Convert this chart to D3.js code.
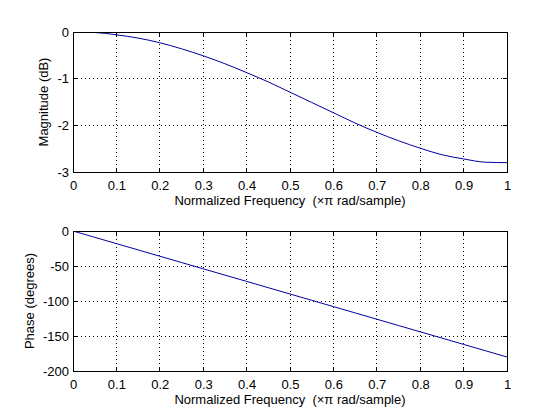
<!DOCTYPE html>
<html>
<head>
<meta charset="utf-8">
<script src="https://cdn.jsdelivr.net/npm/d3@7"></script>
<style>
  body { margin: 0; background: #fff; }
  text { font-family: "Liberation Sans", Arial, sans-serif; font-size: 13px; fill: #000; white-space: pre; }
</style>
</head>
<body>
<script>
// frequency samples (x pi rad/sample)
var freq = [0, 0.05, 0.1, 0.15, 0.2, 0.25, 0.3, 0.35, 0.4, 0.45, 0.5,
            0.55, 0.6, 0.65, 0.7, 0.75, 0.8, 0.85, 0.9, 0.95, 1];
// magnitude in dB
var magnitude = [0, -0.01, -0.06, -0.13, -0.23, -0.36, -0.51, -0.68, -0.87, -1.07, -1.29,
                 -1.51, -1.73, -1.95, -2.15, -2.33, -2.49, -2.63, -2.72, -2.79, -2.8];
// phase in degrees
var phase = [0, -9, -18, -27, -36, -45, -54, -63, -72, -81, -90,
             -99, -108, -117, -126, -135, -144, -153, -162, -171, -180];

var xTicks = [0, 0.1, 0.2, 0.3, 0.4, 0.5, 0.6, 0.7, 0.8, 0.9, 1];
var magTicks = [0, -1, -2, -3];
var phaseTicks = [0, -50, -100, -150, -200];

var xLabel = "Normalized Frequency  (\u00d7\u03c0 rad/sample)";

var W = 560, H = 420;
var svg = d3.select("body").append("svg")
    .attr("width", W)
    .attr("height", H);

//plain hyphen minus like the original
function fmt(d) { return String(d); }

function panel(top, yDomain, yTicks, values, yLabel, ylabX) {
  var left = 73, right = 507, bottom = top + 140;
  var x = d3.scaleLinear().domain([0, 1]).range([left, right]);
  var y = d3.scaleLinear().domain(yDomain).range([bottom, top]);
  var g = svg.append("g");

  var clipId = "clip" + top;
  g.append("clipPath").attr("id", clipId)
    .append("rect")
    .attr("x", left).attr("y", top)
    .attr("width", right - left).attr("height", bottom - top);

  //grid
  g.selectAll(".vgrid").data(xTicks.slice(1, -1)).enter().append("line")
    .attr("x1", function(d) { return x(d); })
    .attr("x2", function(d) { return x(d); })
    .attr("y1", top).attr("y2", bottom)
    .attr("stroke", "#000").attr("stroke-width", 1)
    .attr("stroke-dasharray", "1,3")
    .attr("shape-rendering", "crispEdges");
  g.selectAll(".hgrid").data(yTicks.slice(1, -1)).enter().append("line")
    .attr("y1", function(d) { return y(d); })
    .attr("y2", function(d) { return y(d); })
    .attr("x1", left).attr("x2", right)
    .attr("stroke", "#000").attr("stroke-width", 1)
    .attr("stroke-dasharray", "1,3")
    .attr("shape-rendering", "crispEdges");

  //data line
  var line = d3.line()
    .x(function(d, i) { return x(freq[i]); })
    .y(function(d) { return y(d); })
    .curve(d3.curveMonotoneX);
  g.append("path")
    .datum(values)
    .attr("clip-path", "url(#" + clipId + ")")
    .attr("fill", "none")
    .attr("stroke", "#0000a0")
    .attr("stroke-width", 1)
    .attr("d", line);

  //axes: labels outside, ticks inside
  var xAxis = g.append("g")
    .attr("transform", "translate(0," + bottom + ")")
    .call(d3.axisBottom(x).tickValues(xTicks).tickFormat(fmt).tickSize(0).tickPadding(9));
  xAxis.select(".domain").remove();
  xAxis.selectAll("text").style("font-size", "13px");

  var yAxis = g.append("g")
    .attr("transform", "translate(" + left + ",0)")
    .call(d3.axisLeft(y).tickValues(yTicks).tickFormat(fmt).tickSize(0).tickPadding(4));
  yAxis.select(".domain").remove();
  yAxis.selectAll("text").style("font-size", "13px");

  //inner tick marks on all sides
  var tl = 4;
  xTicks.forEach(function(t) {
    g.append("line").attr("x1", x(t)).attr("x2", x(t)).attr("y1", bottom).attr("y2", bottom - tl)
      .attr("stroke", "#000").attr("shape-rendering", "crispEdges");
    g.append("line").attr("x1", x(t)).attr("x2", x(t)).attr("y1", top).attr("y2", top + tl)
      .attr("stroke", "#000").attr("shape-rendering", "crispEdges");
  });
  yTicks.forEach(function(t) {
    g.append("line").attr("y1", y(t)).attr("y2", y(t)).attr("x1", left).attr("x2", left + tl)
      .attr("stroke", "#000").attr("shape-rendering", "crispEdges");
    g.append("line").attr("y1", y(t)).attr("y2", y(t)).attr("x1", right).attr("x2", right - tl)
      .attr("stroke", "#000").attr("shape-rendering", "crispEdges");
  });

  //frame
  g.append("rect")
    .attr("x", left).attr("y", top)
    .attr("width", right - left).attr("height", bottom - top)
    .attr("fill", "none").attr("stroke", "#000")
    .attr("shape-rendering", "crispEdges");

  g.append("text")
    .attr("x", (left + right) / 2)
    .attr("y", bottom + 33)
    .attr("text-anchor", "middle")
    .text(xLabel);

  g.append("text")
    .attr("transform", "translate(" + ylabX + "," + ((top + bottom) / 2) + ") rotate(-90)")
    .attr("text-anchor", "middle")
    .text(yLabel);
}

panel(32, [-3, 0], magTicks, magnitude, "Magnitude (dB)", 48);
panel(231, [-200, 0], phaseTicks, phase, "Phase (degrees)", 34);
</script>
</body>
</html>
